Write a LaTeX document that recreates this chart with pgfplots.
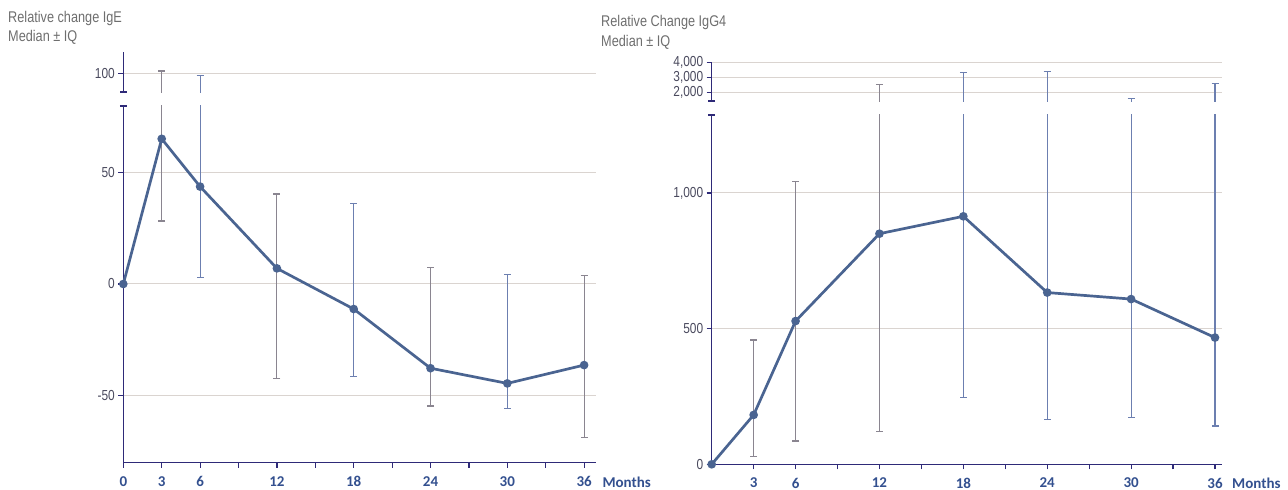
\documentclass[border=0pt]{standalone}
\usepackage{pgfplots}
\pgfplotsset{compat=1.18}
\usetikzlibrary{arrows.meta}
\usepackage{fontspec}
\setmainfont[FakeStretch=0.82]{Liberation Sans}
\newfontfamily\calibri{Carlito}
\definecolor{axisnavy}{HTML}{2E2A78}
\definecolor{linecol}{HTML}{4A6491}
\definecolor{errgray}{HTML}{8A8590}
\definecolor{errblue}{HTML}{6C7FB0}
\definecolor{gridcol}{HTML}{DAD4D0}
\definecolor{ticklab}{HTML}{4A4A5E}
\definecolor{titlecol}{HTML}{6E6E6E}
\definecolor{xlab}{HTML}{33508F}
\pgfplotsset{
  base/.style={scale only axis, anchor=south west,
    axis line style={axisnavy, line width=1.5pt},
    tick style={axisnavy, line width=1.2pt},
    major tick length=5pt, tick align=outside,
    ymajorgrids, grid style={gridcol, line width=1pt},
    /pgf/number format/assume math mode=true,
    yticklabel style={font=\fontsize{14.5}{16}\selectfont, text=ticklab},
    xticklabel style={font=\calibri\bfseries\fontsize{15}{17}\selectfont, text=xlab, yshift=-5pt},
    xlabel style={font=\calibri\bfseries\fontsize{15}{17}\selectfont, text=xlab},
  },
  ebars/.style={draw=none, mark=none, forget plot,
    error bars/.cd, y dir=both, y explicit,
    error bar style={draw=#1, line width=1.1pt},
    error mark options={rotate=90, draw=#1, line width=1.1pt, mark size=3.5pt}},
  medline/.style={linecol, line width=2.7pt, mark=*, mark size=2.9pt,
    mark options={solid, fill=linecol, draw=linecol}},
}
\begin{document}
\begin{tikzpicture}
\useasboundingbox (0,0) rectangle (1288pt,490pt);
% titles
\node[anchor=base west, text=titlecol, font=\fontsize{15.5}{17}\selectfont, inner sep=0pt] at (8pt,467pt) {Relative change IgE};
\node[anchor=base west, text=titlecol, font=\fontsize{15.5}{17}\selectfont, inner sep=0pt] at (8pt,448.5pt) {Median \textpm\ IQ};
\node[anchor=base west, text=titlecol, font=\fontsize{15.5}{17}\selectfont, inner sep=0pt] at (601pt,463pt) {Relative Change IgG4};
\node[anchor=base west, text=titlecol, font=\fontsize{15.5}{17}\selectfont, inner sep=0pt] at (601pt,443.5pt) {Median \textpm\ IQ};

% ---------- Left panel, lower ----------
\begin{axis}[base, at={(123.3pt,27.3pt)}, width=472.7pt, height=357.4pt,
  xmin=0, xmax=36.93, ymin=-80, ymax=80,
  axis x line*=bottom, axis y line*=left,
  y axis line style={-{Bar[width=7pt]}},
  xtick={0,3,...,36}, xticklabels={0,3,6,,12,,18,,24,,30,,36},
  ytick={-50,0,50},
  clip marker paths=true,
  xlabel={Months}, xlabel style={at={(rel axis cs:1,0)}, anchor=west, xshift=3pt, yshift=-19.5pt}]
\addplot[ebars=errgray] coordinates {
 (3,65) += (0,36) -= (0,36.8)
 (12,7.0) += (0,33.3) -= (0,49.5)
 (24,-37.7) += (0,45.0) -= (0,16.9)
 (36,-36.3) += (0,40.0) -= (0,32.5)
};
\addplot[ebars=errblue] coordinates {
 (6,43.6) += (0,55.3) -= (0,40.5)
 (18,-11.2) += (0,47.3) -= (0,30.3)
 (30,-44.5) += (0,48.8) -= (0,11.3)
};
\end{axis}
% ---------- Left panel, upper ----------
\begin{axis}[base, at={(123.3pt,397.3pt)}, width=472.7pt, height=40.4pt,
  xmin=0, xmax=36.93, ymin=91.3, ymax=109.4,
  axis x line=none, axis y line*=left,
  y axis line style={{Bar[width=7pt]}-},
  xtick=\empty, ytick={100},
  clip marker paths=true]
\addplot[ebars=errgray] coordinates {
 (3,65) += (0,36) -= (0,36.8)
 (12,7.0) += (0,33.3) -= (0,49.5)
 (24,-37.7) += (0,45.0) -= (0,16.9)
 (36,-36.3) += (0,40.0) -= (0,32.5)
};
\addplot[ebars=errblue] coordinates {
 (6,43.6) += (0,55.3) -= (0,40.5)
 (18,-11.2) += (0,47.3) -= (0,30.3)
 (30,-44.5) += (0,48.8) -= (0,11.3)
};
\end{axis}
% ---------- Left panel, median line ----------
\begin{axis}[scale only axis, anchor=south west, at={(123.3pt,27.3pt)}, width=472.7pt, height=357.4pt,
  xmin=0, xmax=36.93, ymin=-80, ymax=80, hide axis, clip=false]
\addplot[medline] coordinates {
 (0,0) (3,65) (6,43.6) (12,7.0) (18,-11.2) (24,-37.7) (30,-44.5) (36,-36.3)
};
\end{axis}

% ---------- Right panel, lower ----------
\begin{axis}[base, at={(711.7pt,25.7pt)}, width=510pt, height=350pt,
  xmin=0, xmax=36.48, ymin=0, ymax=1290,
  axis x line*=bottom, axis y line*=left,
  y axis line style={-{Bar[width=7pt]}},
  xtick={3,6,...,36}, xticklabels={3,6,,12,,18,,24,,30,,36},
  ytick={0,500,1000}, yticklabels={0,500,{1,000}},
  clip marker paths=true,
  xlabel={Months}, xlabel style={at={(rel axis cs:1,0)}, anchor=west, xshift=7pt, yshift=-18.5pt}]
\addplot[ebars=errgray] coordinates {
 (3,182) += (0,276) -= (0,154)
 (6,528) += (0,514) -= (0,442)
 (12,850) += (0,1685) -= (0,730)
};
\addplot[ebars=errblue] coordinates {
 (18,914) += (0,2424) -= (0,669)
 (24,633) += (0,2792) -= (0,467)
 (30,609) += (0,990) -= (0,437)
 (36,467) += (0,2135) -= (0,326)
};
\end{axis}
% ---------- Right panel, upper ----------
\begin{axis}[base, at={(711.7pt,388pt)}, width=510pt, height=40pt,
  xmin=0, xmax=36.48, ymin=1350, ymax=4050,
  axis x line=none, axis y line*=left,
  y axis line style={{Bar[width=7pt]}-},
  xtick=\empty, ytick={2000,3000,4000}, yticklabels={{2,000},{3,000},{4,000}},
  clip marker paths=true]
\addplot[ebars=errgray] coordinates {
 (3,182) += (0,276) -= (0,154)
 (6,528) += (0,514) -= (0,442)
 (12,850) += (0,1685) -= (0,730)
};
\addplot[ebars=errblue] coordinates {
 (18,914) += (0,2424) -= (0,669)
 (24,633) += (0,2792) -= (0,467)
 (30,609) += (0,990) -= (0,437)
 (36,467) += (0,2135) -= (0,326)
};
\end{axis}
% ---------- Right panel, median line ----------
\begin{axis}[scale only axis, anchor=south west, at={(711.7pt,25.7pt)}, width=510pt, height=350pt,
  xmin=0, xmax=36.48, ymin=0, ymax=1290, hide axis, clip=false]
\addplot[medline] coordinates {
 (0,0) (3,182) (6,528) (12,850) (18,914) (24,633) (30,609) (36,467)
};
\end{axis}
\end{tikzpicture}
\end{document}
